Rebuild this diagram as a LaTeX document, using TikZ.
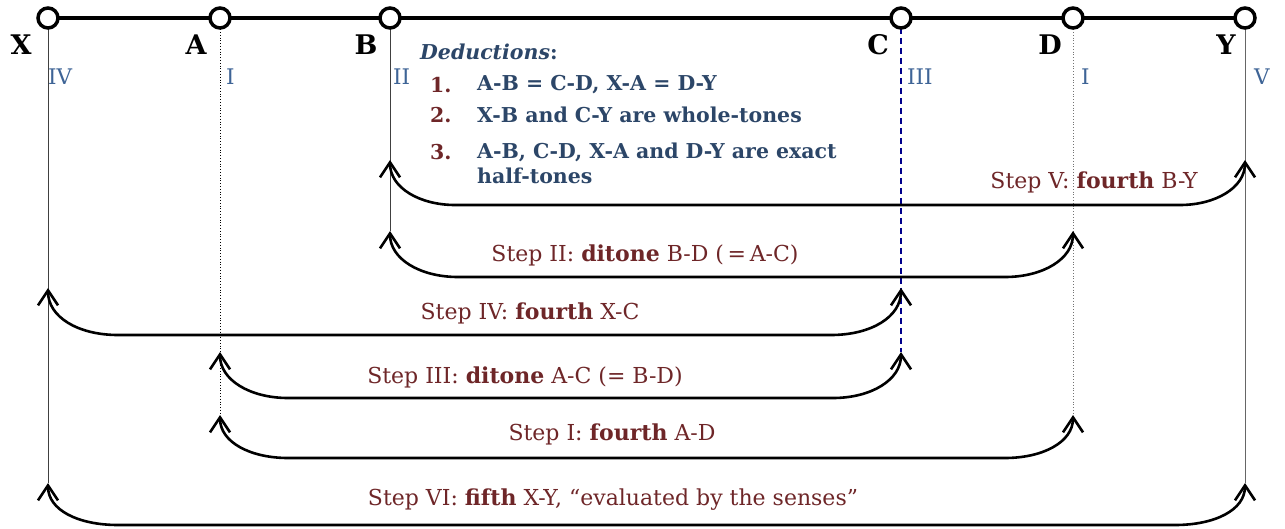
\documentclass[tikz,border=0pt]{standalone}
\usepackage{fontspec}
\setmainfont{DejaVu Serif}
\usetikzlibrary{arrows.meta,calc}
\definecolor{maroon}{RGB}{110,38,40}
\definecolor{dedblue}{RGB}{44,70,104}
\definecolor{romblue}{RGB}{62,100,150}
\definecolor{cnavy}{RGB}{0,0,140}
\tikzset{
  pt/.style={circle,draw=black,fill=white,line width=3.5pt,minimum size=20pt,inner sep=0pt},
  ptlabel/.style={font=\fontsize{27}{30}\selectfont\bfseries,text=black,inner sep=0pt},
  roman/.style={font=\fontsize{21.5}{24}\selectfont,text=romblue,anchor=west,inner sep=0pt},
  steplabel/.style={font=\fontsize{22}{26}\selectfont,text=maroon,inner sep=0pt},
  arr/.style={line width=2.6pt,{Straight Barb[length=15pt,width=20pt,line width=2.6pt]}-{Straight Barb[length=15pt,width=20pt,line width=2.6pt]}},
  ded/.style={font=\fontsize{20.5}{24}\selectfont\bfseries,text=dedblue,anchor=west,inner sep=0pt},
  dednum/.style={font=\fontsize{20.5}{24}\selectfont\bfseries,text=maroon,anchor=west,inner sep=0pt},
}
\begin{document}
\begin{tikzpicture}[x=1pt,y=-1pt]
\useasboundingbox (0,0) rectangle (1285,529);
% arrow tip coordinates
\coordinate (B5) at (390,160); \coordinate (Y5) at (1245,160);
\coordinate (B2) at (390,231); \coordinate (D2) at (1073,231);
\coordinate (X4) at (48,288);  \coordinate (C4) at (901,288);
\coordinate (A3) at (220,352); \coordinate (C3) at (901,352);
\coordinate (A1) at (220,415); \coordinate (D1) at (1073,415);
\coordinate (X6) at (48,483);  \coordinate (Y6) at (1245,483);
% vertical guide lines
\draw[line width=0.9pt,black!75] (48,18) -- (X6);
\draw[line width=0.8pt,black,dotted] (220,18) -- (A1);
\draw[line width=0.9pt,black!75] (390,18) -- (B2);
\draw[line width=1.8pt,cnavy,dash pattern=on 6pt off 4pt] (901,18) -- (C3);
\draw[line width=0.8pt,black!55,dotted] (1073,18) -- (D1);
\draw[line width=0.9pt,black!60] (1245,18) -- (Y6);
% top line and points
\draw[line width=3.5pt] (48,18) -- (1245,18);
\node[pt] (X) at (48,18) {};
\node[pt] (A) at (220,18) {};
\node[pt] (B) at (390,18) {};
\node[pt] (C) at (901,18) {};
\node[pt] (D) at (1073,18) {};
\node[pt] (Y) at (1245,18) {};
\node[ptlabel] (lX) at (21,45) {X};
\node[ptlabel] (lA) at (196,45) {A};
\node[ptlabel] (lB) at (366,45) {B};
\node[ptlabel] (lC) at (878,45) {C};
\node[ptlabel] (lD) at (1050,45) {D};
\node[ptlabel] (lY) at (1226,45) {Y};
% roman numerals
\node[roman] (rX) at (48,77) {IV};
\node[roman] (rA) at (226,77) {I};
\node[roman] (rB) at (393,77) {II};
\node[roman] (rC) at (907,77) {III};
\node[roman] (rD) at (1081,77) {I};
\node[roman] (rY) at (1254,77) {V};
% deductions
\node[ded,font=\fontsize{20.5}{24}\selectfont\bfseries\itshape] (dtitle) at (420,52) {Deductions\textup{:}};
\node[dednum] (n1) at (430,85) {1.};
\node[ded] (d1) at (477,85) {A-B = C-D, X-A = D-Y};
\node[dednum] (n2) at (430,115) {2.};
\node[ded] (d2) at (477,115) {X-B and C-Y are whole-tones};
\node[dednum] (n3) at (430,152) {3.};
\node[ded] (d3) at (477,152) {A-B, C-D, X-A and D-Y are exact};
\node[ded] (d3b) at (477,176) {half-tones};
% step arrows
\draw[arr] (B5) .. controls ($(B5)+(0,28)$) and ($(B5)+(30,45)$) .. ($(B5)+(65,45)$) -- ($(Y5)+(-65,45)$) .. controls ($(Y5)+(-30,45)$) and ($(Y5)+(0,28)$) .. (Y5);
\draw[arr] (B2) .. controls ($(B2)+(0,28)$) and ($(B2)+(30,46)$) .. ($(B2)+(68,46)$) -- ($(D2)+(-68,46)$) .. controls ($(D2)+(-30,46)$) and ($(D2)+(0,28)$) .. (D2);
\draw[arr] (X4) .. controls ($(X4)+(0,29)$) and ($(X4)+(30,47)$) .. ($(X4)+(70,47)$) -- ($(C4)+(-70,47)$) .. controls ($(C4)+(-30,47)$) and ($(C4)+(0,29)$) .. (C4);
\draw[arr] (A3) .. controls ($(A3)+(0,28)$) and ($(A3)+(30,46)$) .. ($(A3)+(68,46)$) -- ($(C3)+(-68,46)$) .. controls ($(C3)+(-30,46)$) and ($(C3)+(0,28)$) .. (C3);
\draw[arr] (A1) .. controls ($(A1)+(0,27)$) and ($(A1)+(30,43)$) .. ($(A1)+(68,43)$) -- ($(D1)+(-68,43)$) .. controls ($(D1)+(-30,43)$) and ($(D1)+(0,27)$) .. (D1);
\draw[arr] (X6) .. controls ($(X6)+(0,27)$) and ($(X6)+(30,42)$) .. ($(X6)+(70,42)$) -- ($(Y6)+(-70,42)$) .. controls ($(Y6)+(-30,42)$) and ($(Y6)+(0,27)$) .. (Y6);
% step labels
\node[steplabel] (s5) at (1094,182) {Step V: \textbf{fourth} B-Y};
\node[steplabel] (s2) at (645,255) {Step II: \textbf{ditone} B-D (\,=\,A-C)};
\node[steplabel] (s4) at (530,313) {Step IV: \textbf{fourth} X-C};
\node[steplabel] (s3) at (525,377) {Step III: \textbf{ditone} A-C (= B-D)};
\node[steplabel] (s1) at (612,434) {Step I: \textbf{fourth} A-D};
\node[steplabel] (s6) at (613,500) {Step VI: \textbf{fifth} X-Y, “evaluated by the senses”};
\end{tikzpicture}
\end{document}
